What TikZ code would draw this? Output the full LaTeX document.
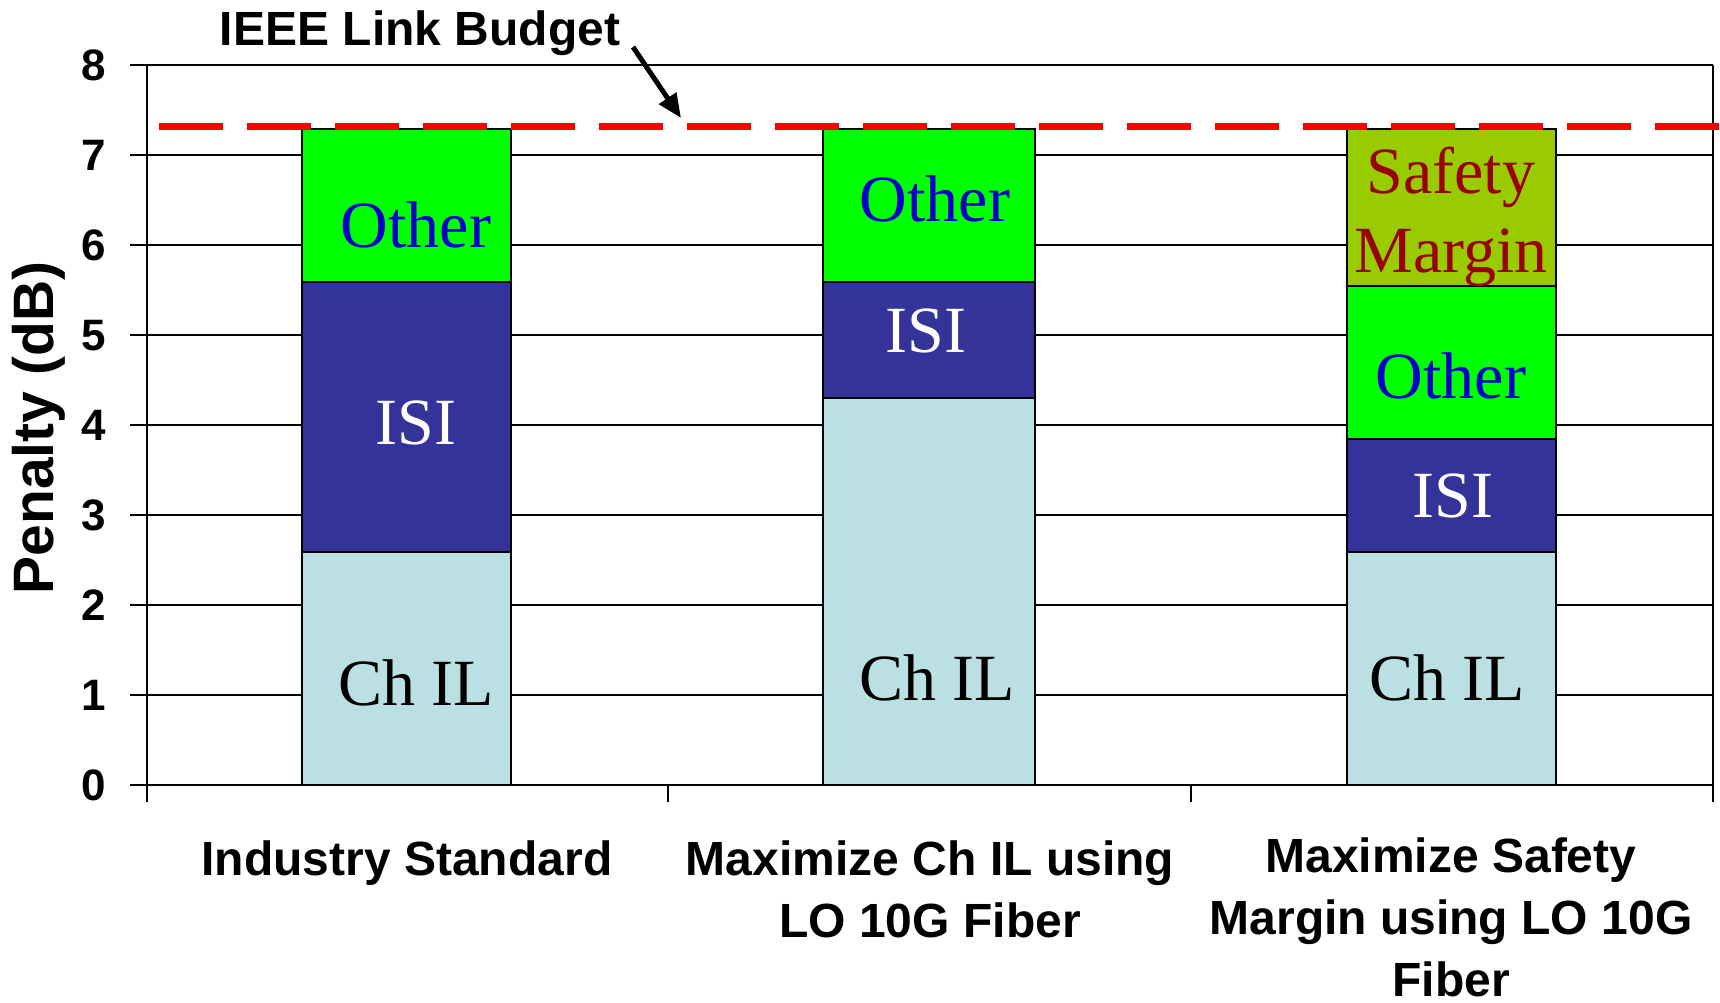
\documentclass[tikz,border=0pt]{standalone}
\usepackage{fontspec}
\setmainfont{Liberation Serif}
\setsansfont{Liberation Sans}
\usetikzlibrary{arrows.meta}
\definecolor{chil}{RGB}{187,224,227}
\definecolor{isi}{RGB}{51,51,153}
\definecolor{other}{RGB}{0,255,0}
\definecolor{safety}{RGB}{153,204,0}
\definecolor{othertext}{RGB}{0,0,204}
\definecolor{safetytext}{RGB}{153,0,0}
\definecolor{budgetred}{RGB}{255,0,0}

\begin{document}
\begin{tikzpicture}[x=1pt,y=-1pt,
  gridline/.style={line width=2pt},
  axisline/.style={line width=2.3pt},
  seg/.style={draw=black,line width=2.4pt},
  barlabel/.style={font=\fontsize{66}{79}\selectfont,inner sep=0pt,anchor=base,align=center},
  ticklabel/.style={font=\sffamily\bfseries\fontsize{44}{50}\selectfont,anchor=east,inner sep=0pt,text height=31.5pt,text depth=0pt},
  catlabel/.style={font=\sffamily\bfseries\fontsize{48}{62}\selectfont,align=center,anchor=base,inner sep=0pt},
  boldlabel/.style={font=\sffamily\bfseries\fontsize{48}{58}\selectfont,anchor=base,inner sep=0pt},
]
\useasboundingbox (0,0) rectangle (1720,1003);

% horizontal grid lines (1 dB to 8 dB)
\foreach \v in {1,...,8}
  \draw[gridline] (147,{785-90*\v}) -- (1713,{785-90*\v});
% plot area border on the right
\draw[gridline] (1713,65) -- (1713,785);

% stacked bars: Ch IL, ISI, Other (and Safety Margin)
\filldraw[fill=chil,seg]  (302,785) rectangle (511,552);
\filldraw[fill=isi,seg]   (302,552) rectangle (511,282);
\filldraw[fill=other,seg] (302,282) rectangle (511,129);

\filldraw[fill=chil,seg]  (823,785) rectangle (1035,398);
\filldraw[fill=isi,seg]   (823,398) rectangle (1035,282);
\filldraw[fill=other,seg] (823,282) rectangle (1035,129);

\filldraw[fill=chil,seg]   (1347,785) rectangle (1556,552);
\filldraw[fill=isi,seg]    (1347,552) rectangle (1556,439);
\filldraw[fill=other,seg]  (1347,439) rectangle (1556,286);
\filldraw[fill=safety,seg] (1347,286) rectangle (1556,129);

% axes with tick marks
\draw[axisline] (147,65) -- (147,802);
\draw[axisline] (130,785) -- (1713,785);
\foreach \v in {1,...,8}
  \draw[axisline] (130,{785-90*\v}) -- (147,{785-90*\v});
\foreach \x in {668,1191,1713}
  \draw[axisline] (\x,785) -- (\x,802);

% IEEE link budget level
\draw[budgetred,line width=7.3pt,dash pattern=on 64pt off 24pt] (159,126.3) -- (1720,126.3);

% segment labels (multi-line nodes sit on the baseline of their last line)
\node[barlabel,text=othertext] (other1) at (416,247) {Other};
\node[barlabel,text=white]     (isi1)   at (416,444) {ISI};
\node[barlabel]                (chil1)  at (416,705) {Ch IL};

\node[barlabel,text=othertext] (other2) at (935,221) {Other};
\node[barlabel,text=white]     (isi2)   at (926,352) {ISI};
\node[barlabel]                (chil2)  at (937,700) {Ch IL};

\node[barlabel,text=safetytext] (safety3) at (1451,272) {Safety\\Margin};
\node[barlabel,text=othertext]  (other3)  at (1451,398) {Other};
\node[barlabel,text=white]      (isi3)    at (1453,517) {ISI};
\node[barlabel]                 (chil3)   at (1447,700) {Ch IL};

% y axis tick labels and title
\foreach \v in {0,...,8}
  \node[ticklabel] (tick\v) at (106,{785-90*\v}) {\v};
\node[boldlabel,font=\sffamily\bfseries\fontsize{57}{62}\selectfont,rotate=90] (ytitle) at (53,428) {Penalty (dB)};

% category labels
\node[catlabel] (cat1) at (407,875) {Industry Standard};
\node[catlabel] (cat2) at (930,937) {Maximize Ch IL using\\LO 10G Fiber};
\node[catlabel] (cat3) at (1451,996) {Maximize Safety\\Margin using LO 10G\\Fiber};

% annotation of the budget line
\node[boldlabel] (budget) at (420,46) {IEEE Link Budget};
\coordinate (arrowtail) at (633,47);
\coordinate (arrowtip) at (681,118);
\draw[line width=5pt,-{Triangle[length=24pt,width=20pt]}] (arrowtail) -- (arrowtip);
\end{tikzpicture}
\end{document}
